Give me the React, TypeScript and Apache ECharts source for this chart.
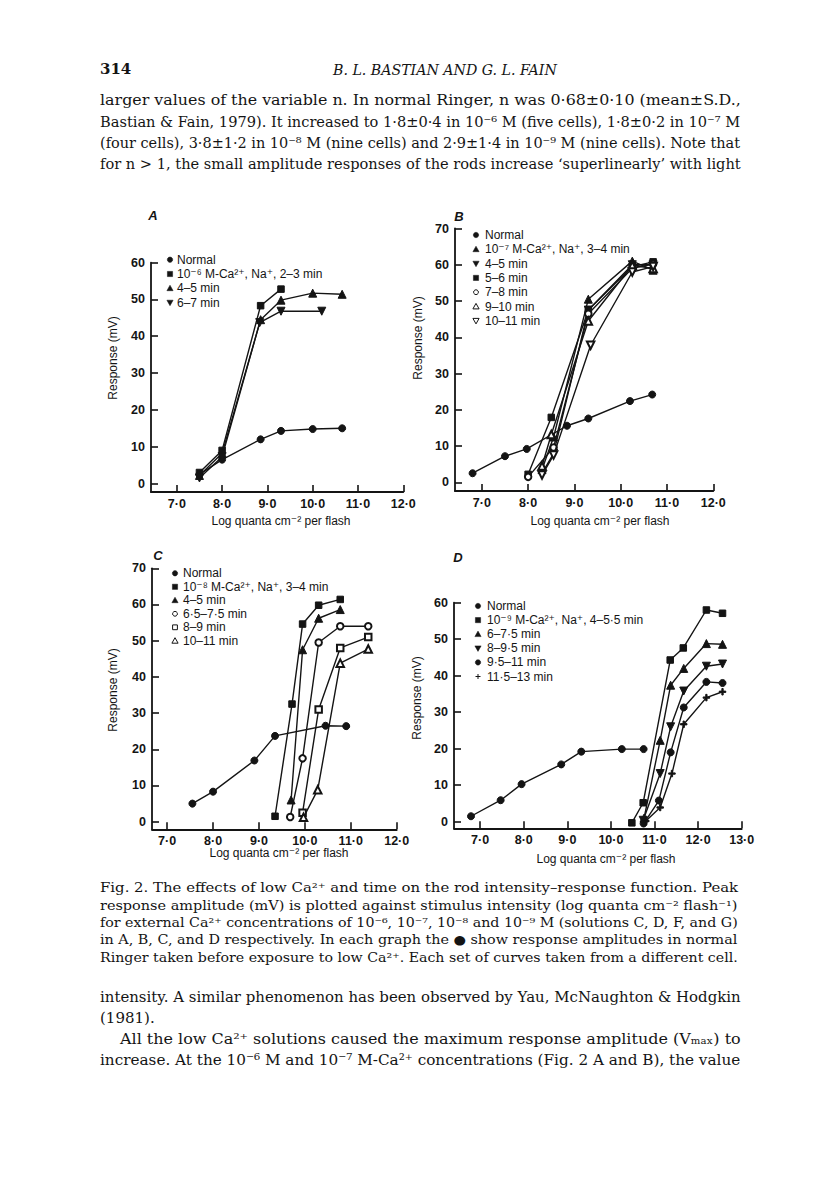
import React, { useEffect, useRef } from 'react';
import * as echarts from 'echarts';

// ---------------- tick values & labels ----------------
const xTicksAC = [7, 8, 9, 10, 11, 12];
const xTickLabelsAC = ['7·0', '8·0', '9·0', '10·0', '11·0', '12·0'];
const xTicksD = [7, 8, 9, 10, 11, 12, 13];
const xTickLabelsD = ['7·0', '8·0', '9·0', '10·0', '11·0', '12·0', '13·0'];
const yTicks60 = [0, 10, 20, 30, 40, 50, 60];
const yTicks70 = [0, 10, 20, 30, 40, 50, 60, 70];

// ---------------- Panel A (10^-6 M) ----------------
const aLabels = ['Normal', '10⁻⁶ M-Ca²⁺, Na⁺, 2–3 min', '4–5 min', '6–7 min'];
const aNormal = [[7.5, 2.5], [8.0, 6.5], [8.85, 12.0], [9.3, 14.3], [10.0, 14.8], [10.65, 15.0]];
const aMin2to3 = [[7.5, 3.0], [8.0, 9.0], [8.85, 48.3], [9.3, 52.8]];
const aMin4to5 = [[7.5, 2.2], [8.0, 8.2], [8.85, 44.5], [9.3, 49.8], [10.0, 51.7], [10.65, 51.4]];
const aMin6to7 = [[7.5, 1.5], [8.0, 7.3], [8.83, 43.7], [9.3, 46.8], [10.2, 46.8]];

// ---------------- Panel B (10^-7 M) ----------------
const bLabels = ['Normal', '10⁻⁷ M-Ca²⁺, Na⁺, 3–4 min', '4–5 min', '5–6 min', '7–8 min', '9–10 min', '10–11 min'];
const bNormal = [[6.8, 2.5], [7.5, 7.2], [7.97, 9.2], [8.84, 15.6], [9.3, 17.6], [10.2, 22.4], [10.68, 24.2]];
const bMin3to4 = [[8.3, 3.5], [8.55, 12.5], [9.3, 50.5], [10.25, 61.0], [10.7, 58.5]];
const bMin4to5 = [[8.3, 2.5], [8.55, 8.0], [9.3, 47.5], [10.25, 60.0], [10.7, 60.0]];
const bMin5to6 = [[8.0, 2.2], [8.5, 17.9], [9.3, 47.5], [10.25, 59.5], [10.7, 60.8]];
const bMin7to8 = [[8.0, 1.5], [8.55, 9.6], [9.3, 46.5], [10.25, 59.0], [10.7, 60.2]];
const bMin9to10 = [[8.3, 4.5], [8.5, 13.2], [9.3, 44.5], [10.25, 59.8], [10.7, 59.0]];
const bMin10to11 = [[8.3, 2.0], [8.55, 7.5], [9.35, 37.8], [10.25, 58.0], [10.7, 59.5]];

// ---------------- Panel C (10^-8 M) ----------------
const cLabels = ['Normal', '10⁻⁸ M-Ca²⁺, Na⁺, 3–4 min', '4–5 min', '6·5–7·5 min', '8–9 min', '10–11 min'];
const cNormal = [[7.55, 5.0], [8.0, 8.3], [8.9, 16.9], [9.35, 23.7], [10.45, 26.5], [10.9, 26.4]];
const cMin3to4 = [[9.35, 1.5], [9.72, 32.5], [9.95, 54.6], [10.3, 59.8], [10.77, 61.4]];
const cMin4to5 = [[9.7, 6.0], [9.95, 47.5], [10.3, 56.2], [10.77, 58.6]];
const cMin65to75 = [[9.68, 1.3], [9.95, 17.5], [10.3, 49.5], [10.77, 54.0], [11.38, 54.0]];
const cMin8to9 = [[9.95, 2.5], [10.3, 31.0], [10.77, 48.0], [11.38, 51.0]];
const cMin10to11 = [[9.97, 1.2], [10.28, 8.8], [10.77, 43.8], [11.38, 47.7]];

// ---------------- Panel D (10^-9 M) ----------------
const dLabels = ['Normal', '10⁻⁹ M-Ca²⁺, Na⁺, 4–5·5 min', '6–7·5 min', '8–9·5 min', '9·5–11 min', '11·5–13 min'];
const dNormal = [[6.79, 1.5], [7.47, 5.9], [7.95, 10.3], [8.86, 15.7], [9.32, 19.2], [10.25, 19.9], [10.75, 19.9]];
const dMin4to55 = [[10.48, -0.3], [10.74, 5.2], [11.36, 44.3], [11.66, 47.6], [12.19, 58.0], [12.56, 57.1]];
const dMin6to75 = [[10.76, 1.0], [11.13, 22.3], [11.37, 37.4], [11.67, 42.0], [12.19, 48.8], [12.56, 48.6]];
const dMin8to95 = [[10.74, 0.4], [11.13, 13.2], [11.37, 26.0], [11.67, 35.8], [12.19, 42.6], [12.56, 43.2]];
const dMin95to11 = [[10.75, -0.5], [11.1, 5.8], [11.37, 19.0], [11.67, 31.3], [12.19, 38.3], [12.56, 38.0]];
const dMin115to13 = [[10.8, 0.2], [11.13, 3.9], [11.4, 13.2], [11.67, 26.7], [12.19, 34.0], [12.56, 35.6]];

// ---------------- page text ----------------
const pageNumber = '314';
const runningHead = 'B. L. BASTIAN AND G. L. FAIN';
const topLines = [
  'larger values of the variable n. In normal Ringer, n was 0·68±0·10 (mean±S.D.,',
  'Bastian & Fain, 1979). It increased to 1·8±0·4 in 10⁻⁶ M (five cells), 1·8±0·2 in 10⁻⁷ M',
  '(four cells), 3·8±1·2 in 10⁻⁸ M (nine cells) and 2·9±1·4 in 10⁻⁹ M (nine cells). Note that',
  'for n > 1, the small amplitude responses of the rods increase ‘superlinearly’ with light',
];
const captionLines = [
  'Fig. 2. The effects of low Ca²⁺ and time on the rod intensity–response function. Peak',
  'response amplitude (mV) is plotted against stimulus intensity (log quanta cm⁻² flash⁻¹)',
  'for external Ca²⁺ concentrations of 10⁻⁶, 10⁻⁷, 10⁻⁸ and 10⁻⁹ M (solutions C, D, F, and G)',
  'in A, B, C, and D respectively. In each graph the ● show response amplitudes in normal',
  'Ringer taken before exposure to low Ca²⁺. Each set of curves taken from a different cell.',
];
const bottomLines = [
  'intensity. A similar phenomenon has been observed by Yau, McNaughton & Hodgkin',
  '(1981).',
  'All the low Ca²⁺ solutions caused the maximum response amplitude (Vₘₐₓ) to',
  'increase. At the 10⁻⁶ M and 10⁻⁷ M-Ca²⁺ concentrations (Fig. 2 A and B), the value',
];
const yAxisName = 'Response (mV)';
const xAxisName = 'Log quanta cm⁻² per flash';

// ---------------- series per panel ----------------
const panelSeries = [
  [
    { data: aNormal, sym: 'dot' },
    { data: aMin2to3, sym: 'sq' },
    { data: aMin4to5, sym: 'tri' },
    { data: aMin6to7, sym: 'tridown' },
  ].map((s, i) => ({ ...s, name: aLabels[i] })),
  [
    { data: bNormal, sym: 'dot' },
    { data: bMin3to4, sym: 'tri' },
    { data: bMin4to5, sym: 'tridown' },
    { data: bMin5to6, sym: 'sq' },
    { data: bMin7to8, sym: 'odot' },
    { data: bMin9to10, sym: 'otri' },
    { data: bMin10to11, sym: 'otridown' },
  ].map((s, i) => ({ ...s, name: bLabels[i] })),
  [
    { data: cNormal, sym: 'dot' },
    { data: cMin3to4, sym: 'sq' },
    { data: cMin4to5, sym: 'tri' },
    { data: cMin65to75, sym: 'odot' },
    { data: cMin8to9, sym: 'osq' },
    { data: cMin10to11, sym: 'otri' },
  ].map((s, i) => ({ ...s, name: cLabels[i] })),
  [
    { data: dNormal, sym: 'dot' },
    { data: dMin4to55, sym: 'sq' },
    { data: dMin6to75, sym: 'tri' },
    { data: dMin8to95, sym: 'tridown' },
    { data: dMin95to11, sym: 'dot' },
    { data: dMin115to13, sym: 'plus' },
  ].map((s, i) => ({ ...s, name: dLabels[i] })),
];

// ---------------- layout ----------------
const INK = '#141414';
const SANS = "'Liberation Sans', 'DejaVu Sans', Arial, sans-serif";
const SERIF = "'DejaVu Serif', 'Liberation Serif', serif";

const panels = [
  {
    letter: 'A', grid: { left: 151, top: 262.6, width: 252.3, height: 229.4 },
    xMin: 6.43, xMax: 12, yMin: -2.3, yMax: 60, xTicks: xTicksAC, xLabels: xTickLabelsAC, yTicks: yTicks60,
    letterPos: [153, 215], yName: [113, 358], xName: [281, 521],
    legend: { mx: 170, tx: 177, y0: 259.7, dy: 14.3 },
  },
  {
    letter: 'B', grid: { left: 455, top: 228.5, width: 258.3, height: 262.5 },
    xMin: 6.42, xMax: 12, yMin: -2.4, yMax: 70, xTicks: xTicksAC, xLabels: xTickLabelsAC, yTicks: yTicks70,
    letterPos: [459, 216], yName: [418, 338], xName: [600, 521],
    legend: { mx: 476, tx: 485, y0: 235, dy: 14.3 },
  },
  {
    letter: 'C', grid: { left: 152, top: 568.3, width: 244.7, height: 261 },
    xMin: 6.67, xMax: 12, yMin: -2.1, yMax: 70, xTicks: xTicksAC, xLabels: xTickLabelsAC, yTicks: yTicks70,
    letterPos: [158, 555], yName: [113, 690], xName: [279, 853],
    legend: { mx: 175, tx: 183, y0: 573.3, dy: 13.5 },
  },
  {
    letter: 'D', grid: { left: 454, top: 602.7, width: 287.7, height: 225.6 },
    xMin: 6.4, xMax: 13, yMin: -1.8, yMax: 60, xTicks: xTicksD, xLabels: xTickLabelsD, yTicks: yTicks60,
    letterPos: [458, 557], yName: [417, 698], xName: [606, 859],
    legend: { mx: 478, tx: 487, y0: 606, dy: 14.1 },
  },
];

const symbolDefs: Record<string, any> = {
  dot: { symbol: 'circle', size: 7, rotate: 0 },
  sq: { symbol: 'rect', size: 6.5, rotate: 0 },
  tri: { symbol: 'triangle', size: 8, rotate: 0 },
  tridown: { symbol: 'triangle', size: 8, rotate: 180 },
  odot: { symbol: 'emptyCircle', size: 6.5, rotate: 0 },
  osq: { symbol: 'emptyRect', size: 6.5, rotate: 0 },
  otri: { symbol: 'emptyTriangle', size: 7.5, rotate: 0 },
  otridown: { symbol: 'emptyTriangle', size: 7.5, rotate: 180 },
  plus: { symbol: 'path://M2,0 L3,0 L3,2 L5,2 L5,3 L3,3 L3,5 L2,5 L2,3 L0,3 L0,2 L2,2 Z', size: 6.5, rotate: 0 },
};

function legendMarker(sym: string, cx: number, cy: number): any {
  const filled = { fill: INK, stroke: INK, lineWidth: 0.5 };
  const open = { fill: '#fff', stroke: INK, lineWidth: 1 };
  const r = 2.7;
  switch (sym) {
    case 'dot': return { type: 'circle', shape: { cx, cy, r }, style: filled };
    case 'odot': return { type: 'circle', shape: { cx, cy, r: 2.4 }, style: open };
    case 'sq': return { type: 'rect', shape: { x: cx - 2.6, y: cy - 2.6, width: 5.2, height: 5.2 }, style: filled };
    case 'osq': return { type: 'rect', shape: { x: cx - 2.4, y: cy - 2.4, width: 4.8, height: 4.8 }, style: open };
    case 'tri': return { type: 'polygon', shape: { points: [[cx, cy - 3.1], [cx + 3.1, cy + 2.4], [cx - 3.1, cy + 2.4]] }, style: filled };
    case 'otri': return { type: 'polygon', shape: { points: [[cx, cy - 3.1], [cx + 3.1, cy + 2.4], [cx - 3.1, cy + 2.4]] }, style: open };
    case 'tridown': return { type: 'polygon', shape: { points: [[cx, cy + 3.1], [cx + 3.1, cy - 2.4], [cx - 3.1, cy - 2.4]] }, style: filled };
    case 'otridown': return { type: 'polygon', shape: { points: [[cx, cy + 3.1], [cx + 3.1, cy - 2.4], [cx - 3.1, cy - 2.4]] }, style: open };
    case 'plus':
    default:
      return {
        type: 'group', children: [
          { type: 'line', shape: { x1: cx - 2.5, y1: cy, x2: cx + 2.5, y2: cy }, style: { stroke: INK, lineWidth: 1 } },
          { type: 'line', shape: { x1: cx, y1: cy - 2.5, x2: cx, y2: cy + 2.5 }, style: { stroke: INK, lineWidth: 1 } },
        ],
      };
  }
}

function buildOption() {
  const ctx = document.createElement('canvas').getContext('2d') as CanvasRenderingContext2D;
  const measure = (t: string, size: number, family: string, style = 'normal', weight = 'normal') => {
    ctx.font = `${style} ${weight} ${size}px ${family}`;
    return ctx.measureText(t).width;
  };
  const textEl = (t: string, x: number, y: number, size: number, family: string, opts: any = {}) => {
    const style = opts.fontStyle || 'normal';
    const weight = opts.fontWeight || 'normal';
    let scaleX = 1;
    if (opts.width) scaleX = opts.width / measure(t, size, family, style, weight);
    return {
      type: 'text', x, y, scaleX, silent: true,
      rotation: opts.rotation || 0,
      style: {
        text: t, fontSize: size, fontFamily: family, fontStyle: style, fontWeight: weight,
        fill: INK, align: opts.align || 'left', verticalAlign: 'middle',
      },
    };
  };

  const graphics: any[] = [];
  // page header
  graphics.push(textEl(pageNumber, 100, 69, 15, SERIF, { fontWeight: 'bold' }));
  graphics.push(textEl(runningHead, 333, 69, 15, SERIF, { fontStyle: 'italic', width: 224 }));
  // body text
  const topY = [100, 121, 142, 163];
  topLines.forEach((t, i) => graphics.push(textEl(t, 100, topY[i], 15, SERIF, { width: 641 })));
  const capY = [887, 905, 922.5, 940, 958];
  captionLines.forEach((t, i) => graphics.push(textEl(t, 100, capY[i], 12.5, SERIF, { width: 638 })));
  const botY = [997, 1018, 1039, 1060];
  const botX = [100, 100, 120, 100];
  const botW = [641, 0, 621, 641];
  bottomLines.forEach((t, i) => graphics.push(textEl(t, botX[i], botY[i], 15, SERIF, { width: botW[i] })));

  const grid: any[] = [];
  const xAxis: any[] = [];
  const yAxis: any[] = [];
  const series: any[] = [];

  panels.forEach((p, pi) => {
    grid.push({ ...p.grid, containLabel: false });
    const xt = p.xTicks;
    const xl = p.xLabels;
    xAxis.push({
      type: 'value', gridIndex: pi, min: p.xMin, max: p.xMax,
      axisLine: { show: true, onZero: false, lineStyle: { color: INK, width: 1.8 } },
      axisTick: { show: true, inside: true, length: 7, customValues: xt, lineStyle: { color: INK, width: 1.6 } },
      axisLabel: {
        show: true, customValues: xt, margin: 5, fontSize: 12.5, fontWeight: 'bold', fontFamily: SANS, color: INK,
        formatter: (v: number) => {
          const k = xt.findIndex((t) => Math.abs(t - v) < 1e-6);
          return k >= 0 ? xl[k] : '';
        },
      },
      splitLine: { show: false },
    });
    yAxis.push({
      type: 'value', gridIndex: pi, min: p.yMin, max: p.yMax,
      axisLine: { show: true, onZero: false, lineStyle: { color: INK, width: 1.8 } },
      axisTick: { show: true, inside: true, length: 7, customValues: p.yTicks, lineStyle: { color: INK, width: 1.6 } },
      axisLabel: {
        show: true, customValues: p.yTicks, margin: 6, fontSize: 12.5, fontWeight: 'bold', fontFamily: SANS, color: INK,
        formatter: (v: number) => String(Math.round(v)),
      },
      splitLine: { show: false },
    });

    panelSeries[pi].forEach((s, si) => {
      const d = symbolDefs[s.sym];
      series.push({
        type: 'line', name: s.name, xAxisIndex: pi, yAxisIndex: pi, data: s.data,
        symbol: d.symbol, symbolSize: d.size, symbolRotate: d.rotate, showSymbol: true,
        lineStyle: { color: INK, width: 1.4 },
        itemStyle: { color: INK, borderColor: INK, borderWidth: 1 },
        emphasis: { disabled: true }, silent: true, clip: false, z: 3 + si,
      });
      // legend entry
      const ly = p.legend.y0 + si * p.legend.dy;
      graphics.push(legendMarker(s.sym, p.legend.mx, ly));
      graphics.push(textEl(s.name, p.legend.tx, ly, 12, SANS));
    });

    // panel letter and axis names
    graphics.push(textEl(p.letter, p.letterPos[0], p.letterPos[1], 13, SANS, { fontStyle: 'italic', fontWeight: 'bold', align: 'center' }));
    graphics.push(textEl(yAxisName, p.yName[0], p.yName[1], 12, SANS, { rotation: Math.PI / 2, align: 'center' }));
    graphics.push(textEl(xAxisName, p.xName[0], p.xName[1], 12, SANS, { align: 'center' }));
  });

  return {
    animation: false,
    backgroundColor: '#ffffff',
    tooltip: { show: false },
    grid, xAxis, yAxis, series,
    graphic: { elements: graphics },
  };
}

export default function App() {
  const ref = useRef<HTMLDivElement>(null);
  useEffect(() => {
    if (!ref.current) return;
    const chart = echarts.init(ref.current, null, { renderer: 'svg' });
    chart.setOption(buildOption() as any, true);
    return () => chart.dispose();
  }, []);
  return (
    <div
      ref={ref}
      style={{ position: 'absolute', left: 0, top: 0, width: 816, height: 1181, background: '#fff' }}
    />
  );
}
